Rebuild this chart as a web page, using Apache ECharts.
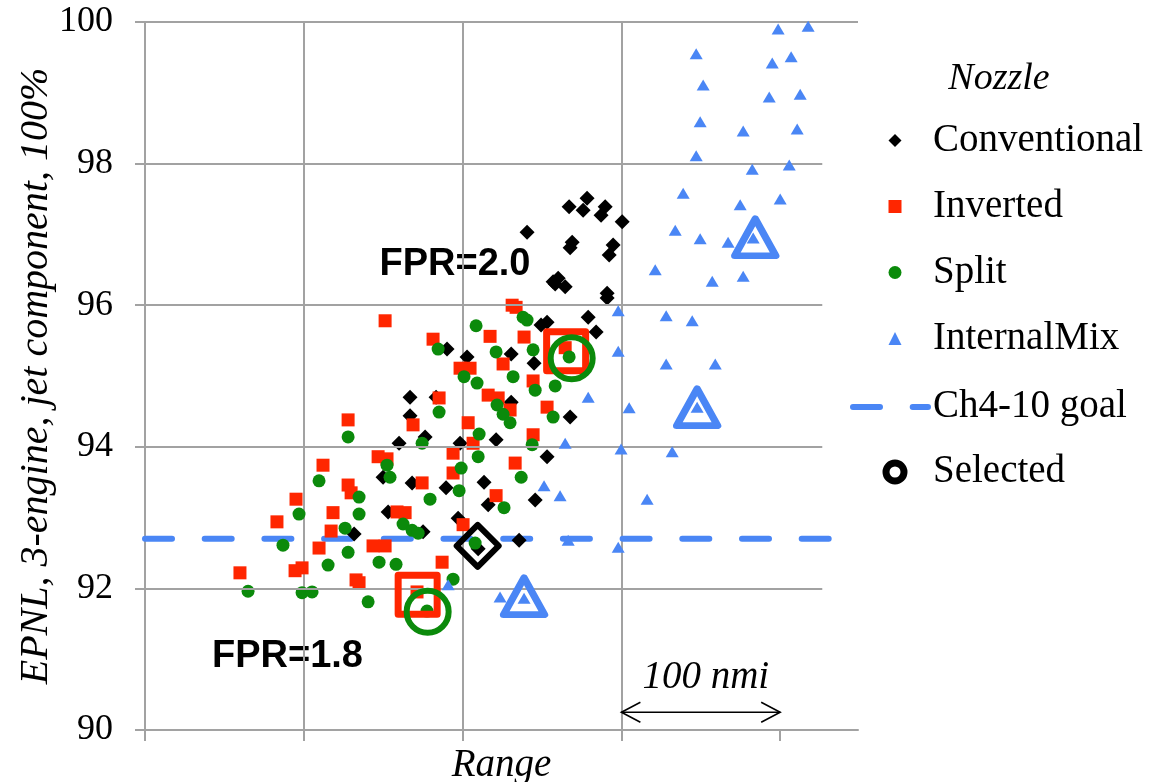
<!DOCTYPE html>
<html>
<head>
<meta charset="utf-8">
<title>EPNL vs Range</title>
<script src="https://cdn.jsdelivr.net/npm/echarts@6/dist/echarts.min.js"></script>
<style>
  html, body { margin: 0; padding: 0; background: #fff; }
  #chart { width: 1151px; height: 782px; }
</style>
</head>
<body>
<div id="chart"></div>
<script>
// Axis ticks: range in nmi (one grid cell = 100 nmi), EPNL in dB
const yTicks = [90, 92, 94, 96, 98, 100];
const xTicks = [0, 100, 200, 300, 400];

// Nozzle design points: [range, EPNL]
const conventional = [
  [166.9, 94.70], [166.9, 94.44], [160.0, 94.05], [149.9, 93.57], [168.2, 93.49], [153.1, 93.08],
  [131.7, 92.77], [258.3, 96.30], [190.2, 95.38], [202.8, 95.27], [230.6, 95.31], [245.0, 95.18],
  [183.3, 94.70], [230.6, 94.63], [176.4, 94.14], [198.4, 94.05], [221.1, 94.10], [253.2, 93.86],
  [213.5, 93.50], [189.6, 93.42], [245.7, 93.25], [216.1, 93.18], [197.2, 92.99], [175.1, 92.80],
  [235.6, 92.68], [209.8, 92.56], [278.4, 97.51], [267.1, 97.39], [275.9, 97.34], [289.8, 97.39],
  [287.2, 97.27], [300.5, 97.18], [240.6, 97.03], [269.0, 96.89], [267.7, 96.81], [294.8, 96.85],
  [292.3, 96.71], [260.2, 96.38], [257.0, 96.33], [264.6, 96.26], [291.0, 96.17], [291.0, 96.10],
  [279.1, 95.83], [253.2, 95.76], [284.1, 95.62], [267.7, 94.42], [249.4, 95.72]
];
const inverted = [
  [127.9, 94.38], [146.8, 93.86], [152.4, 93.83], [112.1, 93.74], [127.9, 93.46], [129.8, 93.35],
  [95.1, 93.26], [118.4, 93.07], [83.1, 92.94], [117.2, 92.81], [158.7, 93.08], [163.8, 93.07],
  [109.6, 92.57], [143.6, 92.60], [151.2, 92.60], [59.8, 92.22], [94.5, 92.25], [98.9, 92.29],
  [132.9, 92.12], [134.8, 92.08], [151.2, 95.78], [233.7, 95.97], [181.4, 95.52], [217.3, 95.56],
  [238.7, 95.55], [198.4, 95.11], [204.7, 95.11], [225.5, 95.17], [244.4, 94.93], [185.2, 94.69],
  [216.1, 94.73], [222.4, 94.69], [253.2, 94.56], [168.8, 94.31], [203.5, 94.34], [244.4, 94.17],
  [206.6, 94.05], [194.0, 93.91], [233.1, 93.77], [194.0, 93.63], [174.5, 93.49], [221.1, 93.31],
  [200.3, 92.90], [187.1, 92.37], [171.3, 91.95], [231.2, 96.00], [264.6, 95.40], [229.9, 94.52]
];
const split = [
  [127.9, 94.14], [152.4, 93.74], [154.3, 93.57], [109.6, 93.52], [134.8, 93.29], [97.0, 93.05],
  [134.8, 93.05], [126.0, 92.85], [162.5, 92.91], [168.2, 92.82], [172.0, 92.78], [86.9, 92.61],
  [127.9, 92.51], [115.3, 92.33], [147.4, 92.37], [158.1, 92.34], [64.9, 91.96], [98.9, 91.94],
  [105.2, 91.95], [140.5, 91.81], [208.5, 95.71], [238.1, 95.83], [184.6, 95.38], [221.1, 95.34],
  [244.4, 95.37], [200.9, 94.99], [209.1, 94.90], [231.8, 94.99], [245.7, 94.80], [257.0, 94.42],
  [185.2, 94.49], [221.7, 94.59], [225.5, 94.46], [229.9, 94.34], [210.4, 94.18], [174.5, 94.05],
  [243.8, 94.03], [209.8, 93.86], [199.1, 93.70], [236.9, 93.57], [197.8, 93.38], [179.5, 93.26],
  [226.1, 93.14], [194.0, 92.13], [177.6, 91.68], [267.1, 95.27], [240.6, 95.79], [258.3, 94.86],
  [207.9, 92.64]
];
const internalMix = [
  [398.7, 99.90], [417.6, 99.94], [347.1, 99.55], [395.0, 99.42], [406.9, 99.51], [351.5, 99.11],
  [393.1, 98.94], [412.6, 98.98], [349.6, 98.59], [376.7, 98.46], [410.7, 98.49], [347.1, 98.11],
  [382.4, 97.92], [405.7, 97.98], [338.9, 97.58], [374.8, 97.42], [400.0, 97.50], [333.9, 97.06],
  [349.6, 96.94], [367.2, 96.89], [383.0, 96.95], [321.3, 96.50], [357.2, 96.34], [376.7, 96.41],
  [298.0, 95.92], [328.2, 95.85], [344.6, 95.78], [298.0, 95.35], [328.2, 95.17], [359.1, 95.17],
  [304.9, 94.55], [347.7, 94.56], [299.8, 93.97], [332.0, 93.93], [316.2, 93.26], [298.0, 92.58],
  [279.1, 94.70], [264.6, 94.05], [251.3, 93.45], [261.4, 93.31], [266.5, 92.68], [190.9, 92.05],
  [223.6, 91.88], [238.7, 91.86]
];

// Selected designs per nozzle type
const selectedConventional = [[209.5, 92.60]];
const selectedInverted = [[171.7, 91.91], [265.2, 95.35]];
const selectedSplit = [[178.0, 91.67], [268.7, 95.25]];
const selectedInternalMix = [[238.7, 91.89], [347.7, 94.56], [384.3, 96.96]];

// Chapter 4 minus 10 dB goal
const goalEPNL = 92.7;

// 100 nmi scale bar: [from, to, EPNL level]
const scaleBar = [[300, 400, 90.25]];

// Annotation labels
const fprLabels = ['FPR=2.0', 'FPR=1.8'];

const X_MAX = 449;
const H_GRID_END = 426.5;

const BLACK = '#000000';
const RED = '#ff2600';
const GREEN = '#0b8a0b';
const BLUE = '#4a86f5';
const GRID = '#a2a2a2';
const SERIF = '"Liberation Serif", "Times New Roman", serif';
const SANS = '"Liberation Sans", Arial, sans-serif';
const GOAL_DASH = [27, 32.7];

const hollow = (pts, symbol, size, color, width) => pts.map(p => ({
  value: p,
  symbol: symbol,
  symbolSize: size,
  itemStyle: { color: 'transparent', borderColor: color, borderWidth: width, borderJoin: 'round', opacity: 1 }
}));

const selectedMarks = [
  ...hollow(selectedConventional, 'diamond', 42, BLACK, 6),
  ...hollow(selectedInverted, 'rect', 39, RED, 7),
  ...hollow(selectedSplit, 'circle', 42, GREEN, 6),
  ...hollow(selectedInternalMix, 'triangle', [41, 37], BLUE, 7)
];

// Horizontal gridlines (the top one spans the full plot width)
const hGridLines = yTicks.slice(1).map(v => [
  { coord: [0, v] },
  { coord: [v === yTicks[yTicks.length - 1] ? X_MAX : H_GRID_END, v] }
]);

const legendText = (padLeft) => ({
  fontFamily: SERIF, fontSize: 39, color: '#000', lineHeight: 40, padding: [0, 0, 0, padLeft]
});

const chart = echarts.init(document.getElementById('chart'), null, { renderer: 'canvas' });
chart.setOption({
  animation: false,
  backgroundColor: '#ffffff',
  grid: { left: 145, top: 22, right: 293, bottom: 52, containLabel: false, outerBoundsMode: 'none' },
  xAxis: {
    type: 'value', min: 0, max: X_MAX, interval: 100,
    name: 'Range', nameLocation: 'middle', nameGap: 16, nameMoveOverlap: false,
    nameTextStyle: { fontFamily: SERIF, fontStyle: 'italic', fontSize: 39, color: '#000' },
    axisLine: { show: true, lineStyle: { color: GRID, width: 2 } },
    axisTick: { show: true, inside: false, length: 11, customValues: xTicks, lineStyle: { color: GRID, width: 2 } },
    axisLabel: { show: false },
    splitLine: { show: true, showMinLine: true, showMaxLine: false, lineStyle: { color: GRID, width: 2 } }
  },
  yAxis: {
    type: 'value', min: yTicks[0], max: yTicks[yTicks.length - 1], interval: 2,
    name: 'EPNL, 3-engine, jet component, 100%', nameLocation: 'middle', nameGap: 89, nameRotate: 90,
    nameMoveOverlap: false,
    nameTextStyle: { fontFamily: SERIF, fontStyle: 'italic', fontSize: 40, color: '#000' },
    axisLine: { show: true, lineStyle: { color: GRID, width: 2 } },
    axisTick: { show: true, inside: false, length: 10, lineStyle: { color: GRID, width: 2 } },
    axisLabel: { show: true, margin: 32, fontFamily: SERIF, fontSize: 36, color: '#000' },
    splitLine: { show: false }
  },
  legend: [
    {
      orient: 'vertical', left: 883.5, top: 115.5, itemWidth: 13, itemHeight: 13, itemGap: 26,
      selectedMode: false, symbolKeepAspect: true,
      data: ['Conventional', 'Inverted', 'Split', 'InternalMix'],
      textStyle: legendText(26.5)
    },
    {
      orient: 'vertical', left: 845, top: 382, itemWidth: 75, itemHeight: 6,
      selectedMode: false, data: ['Ch4-10 goal'], textStyle: legendText(0),
      lineStyle: { width: 6, type: GOAL_DASH, cap: 'round', color: BLUE },
      itemStyle: { color: 'transparent', borderWidth: 0, opacity: 0 }
    },
    {
      orient: 'vertical', left: 877.5, top: 447, itemWidth: 18, itemHeight: 18,
      selectedMode: false, data: ['Selected'], textStyle: legendText(24),
      itemStyle: { borderWidth: 7, borderColor: BLACK, color: 'transparent' }
    }
  ],
  graphic: [
    { type: 'text', x: 999, y: 79, silent: true,
      style: { text: 'Nozzle', font: 'italic 38px ' + SERIF, fill: '#000', align: 'center', verticalAlign: 'middle' } },
    { type: 'text', x: 455, y: 264.5, silent: true,
      style: { text: fprLabels[0], font: 'bold 38px ' + SANS, fill: '#000', align: 'center', verticalAlign: 'middle' } },
    { type: 'text', x: 287.5, y: 656.5, silent: true,
      style: { text: fprLabels[1], font: 'bold 38px ' + SANS, fill: '#000', align: 'center', verticalAlign: 'middle' } }
  ],
  series: [
    {
      name: 'Ch4-10 goal', type: 'line', silent: true, z: 1,
      data: [[0, goalEPNL], [X_MAX, goalEPNL]],
      symbol: 'none', clip: true,
      lineStyle: { color: BLUE, width: 6, type: GOAL_DASH, cap: 'round' },
      itemStyle: { color: BLUE },
      markLine: {
        silent: true, symbol: 'none', label: { show: false },
        lineStyle: { color: GRID, width: 2, type: 'solid' },
        data: hGridLines
      }
    },
    {
      name: 'Conventional', type: 'scatter', data: conventional, symbolKeepAspect: true,
      symbol: 'diamond', symbolSize: 15, itemStyle: { color: BLACK, opacity: 1 }, z: 2
    },
    {
      name: 'Inverted', type: 'scatter', data: inverted, symbolKeepAspect: true,
      symbol: 'rect', symbolSize: 13, itemStyle: { color: RED, opacity: 1 }, z: 3
    },
    {
      name: 'Split', type: 'scatter', data: split, symbolKeepAspect: true,
      symbol: 'circle', symbolSize: 13, itemStyle: { color: GREEN, opacity: 1 }, z: 4
    },
    {
      name: 'InternalMix', type: 'scatter', data: internalMix,
      symbol: 'triangle', symbolSize: [13, 11], itemStyle: { color: BLUE, opacity: 1 }, z: 5
    },
    {
      name: 'Selected', type: 'scatter', data: selectedMarks, z: 6,
      symbol: 'circle',
      itemStyle: { color: 'transparent', borderColor: BLACK, borderWidth: 7, opacity: 1 }
    },
    {
      name: 'scale', type: 'custom', silent: true, z: 7,
      data: scaleBar,
      encode: { x: [0, 1], y: 2 },
      renderItem: (params, api) => {
        const a = api.coord([api.value(0), api.value(2)]);
        const b = api.coord([api.value(1), api.value(2)]);
        const y = a[1];
        const head = 19, half = 10;
        const st = { stroke: '#000', lineWidth: 1.6, fill: null };
        return {
          type: 'group',
          children: [
            { type: 'line', shape: { x1: a[0], y1: y, x2: b[0], y2: y }, style: st },
            { type: 'polyline', shape: { points: [[a[0] + head, y - half], [a[0], y], [a[0] + head, y + half]] }, style: st },
            { type: 'polyline', shape: { points: [[b[0] - head, y - half], [b[0], y], [b[0] - head, y + half]] }, style: st },
            { type: 'text', x: (a[0] + b[0]) / 2 + 5, y: y - 35,
              style: { text: '100 nmi', font: 'italic 39px ' + SERIF, fill: '#000', align: 'center', verticalAlign: 'middle' } }
          ]
        };
      }
    }
  ]
});
</script>
</body>
</html>
